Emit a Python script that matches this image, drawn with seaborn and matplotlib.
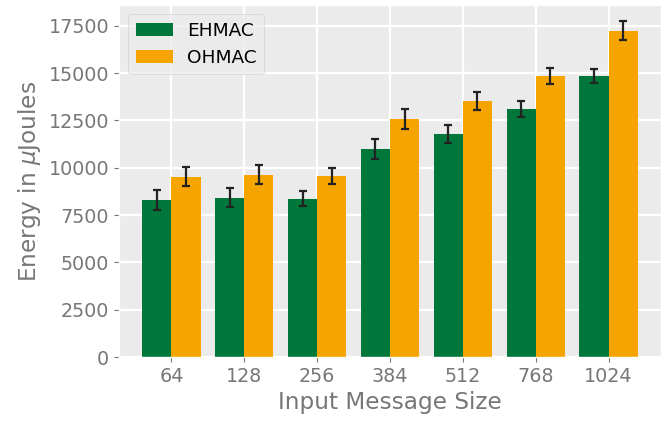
import numpy as np
import pandas as pd
import seaborn as sns
import matplotlib.pyplot as plt

plt.style.use("ggplot")
plt.rcParams["font.family"] = ["DejaVu Sans"]
plt.rcParams["axes.facecolor"] = "#EBEBEB"

# values
sizes = ["64", "128", "256", "384", "512", "768", "1024"]
ehmac = [8300, 8410, 8355, 11000, 11790, 13115, 14860]
ohmac = [9520, 9625, 9570, 12585, 13540, 14860, 17240]
ehmac_err = [530, 500, 400, 530, 475, 420, 370]
ohmac_err = [500, 500, 420, 530, 475, 420, 500]

PALETTE = {"EHMAC": "#00773A", "OHMAC": "#F6A400"}

df = pd.DataFrame({
    "size": sizes * 2,
    "energy": ehmac + ohmac,
    "err": ehmac_err + ohmac_err,
    "scheme": ["EHMAC"] * len(sizes) + ["OHMAC"] * len(sizes),
})

fig, ax = plt.subplots(figsize=(6.65, 4.22), dpi=100)
fig.subplots_adjust(left=0.179, right=0.994, top=0.988, bottom=0.154)

sns.barplot(data=df, x="size", y="energy", hue="scheme",
    order=sizes, hue_order=PALETTE.keys(), palette=PALETTE,
    saturation=1, errorbar=None, width=0.8, ax=ax)

# error bars at the bar centres seaborn chose
for scheme, container in zip(PALETTE.keys(), ax.containers):
    sub = df[df["scheme"] == scheme]
    xs = [p.get_x() + p.get_width() / 2 for p in container.patches]
    ax.errorbar(xs, sub["energy"], yerr=sub["err"], fmt="none",
        ecolor="#222222", elinewidth=1.6, capsize=3, capthick=1.6, zorder=3)

ax.set_xlim(-0.72, len(sizes) - 1 + 0.72)
ax.set_ylim(0, 18600)
ax.set_yticks(np.arange(0, 17501, 2500))

ax.set_xlabel("Input Message Size", fontsize=16.7, color="#777777")
ax.set_ylabel(r"Energy in $\mu$Joules", fontsize=16.7, color="#777777")
ax.tick_params(axis="both", labelsize=13.8, labelcolor="#777777", colors="#777777")
ax.grid(True, color="white", linewidth=1.6)

ax.legend(loc="upper left", fontsize=13.3, title=None)

plt.savefig("out.png", dpi=100)
